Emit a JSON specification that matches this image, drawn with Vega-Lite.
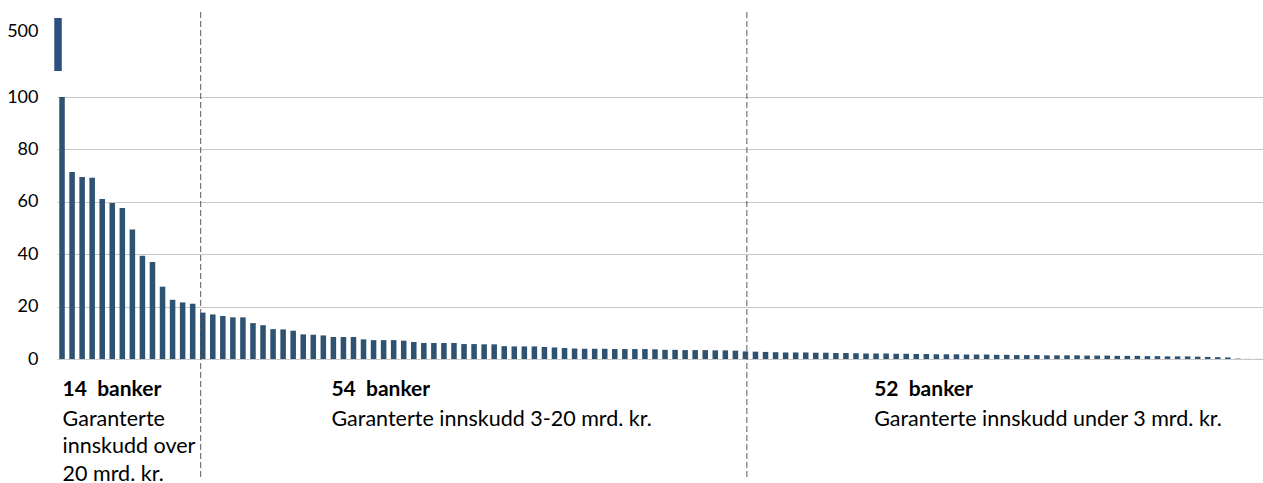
{
  "$schema": "https://vega.github.io/schema/vega-lite/v6.json",
  "width": 1206,
  "height": 465,
  "autosize": {"type": "none"},
  "padding": {"left": 57, "top": 12, "right": 0, "bottom": 6},
  "background": "white",
  "config": {
    "view": {"stroke": null},
    "font": "Lato",
    "text": {"font": "Lato", "color": "#000000"}
  },
  "datasets": {
    "banks": [
      {"rank": 1, "value": 520}, {"rank": 2, "value": 71.4}, {"rank": 3, "value": 69.5}, {"rank": 4, "value": 69.2},
      {"rank": 5, "value": 61.1}, {"rank": 6, "value": 59.5}, {"rank": 7, "value": 57.6}, {"rank": 8, "value": 49.4},
      {"rank": 9, "value": 39.4}, {"rank": 10, "value": 37.0}, {"rank": 11, "value": 27.6}, {"rank": 12, "value": 22.6},
      {"rank": 13, "value": 21.6}, {"rank": 14, "value": 21.1}, {"rank": 15, "value": 17.7}, {"rank": 16, "value": 17.0},
      {"rank": 17, "value": 16.4}, {"rank": 18, "value": 15.9}, {"rank": 19, "value": 15.9}, {"rank": 20, "value": 13.7},
      {"rank": 21, "value": 12.9}, {"rank": 22, "value": 11.4}, {"rank": 23, "value": 11.3}, {"rank": 24, "value": 10.8},
      {"rank": 25, "value": 9.4}, {"rank": 26, "value": 9.3}, {"rank": 27, "value": 9.0}, {"rank": 28, "value": 8.4},
      {"rank": 29, "value": 8.4}, {"rank": 30, "value": 8.4}, {"rank": 31, "value": 7.5}, {"rank": 32, "value": 7.2},
      {"rank": 33, "value": 7.2}, {"rank": 34, "value": 7.2}, {"rank": 35, "value": 7.0}, {"rank": 36, "value": 6.5},
      {"rank": 37, "value": 6.1}, {"rank": 38, "value": 6.1}, {"rank": 39, "value": 6.1}, {"rank": 40, "value": 6.1},
      {"rank": 41, "value": 5.7}, {"rank": 42, "value": 5.7}, {"rank": 43, "value": 5.6}, {"rank": 44, "value": 5.6},
      {"rank": 45, "value": 4.9}, {"rank": 46, "value": 4.8}, {"rank": 47, "value": 4.8}, {"rank": 48, "value": 4.8},
      {"rank": 49, "value": 4.6}, {"rank": 50, "value": 4.4}, {"rank": 51, "value": 4.2}, {"rank": 52, "value": 4.0},
      {"rank": 53, "value": 3.9}, {"rank": 54, "value": 3.9}, {"rank": 55, "value": 3.9}, {"rank": 56, "value": 3.8},
      {"rank": 57, "value": 3.8}, {"rank": 58, "value": 3.8}, {"rank": 59, "value": 3.8}, {"rank": 60, "value": 3.7},
      {"rank": 61, "value": 3.5}, {"rank": 62, "value": 3.5}, {"rank": 63, "value": 3.4}, {"rank": 64, "value": 3.4},
      {"rank": 65, "value": 3.4}, {"rank": 66, "value": 3.3}, {"rank": 67, "value": 3.3}, {"rank": 68, "value": 3.2},
      {"rank": 69, "value": 2.9}, {"rank": 70, "value": 2.8}, {"rank": 71, "value": 2.7}, {"rank": 72, "value": 2.6},
      {"rank": 73, "value": 2.5}, {"rank": 74, "value": 2.5}, {"rank": 75, "value": 2.5}, {"rank": 76, "value": 2.4},
      {"rank": 77, "value": 2.4}, {"rank": 78, "value": 2.3}, {"rank": 79, "value": 2.3}, {"rank": 80, "value": 2.2},
      {"rank": 81, "value": 2.1}, {"rank": 82, "value": 2.1}, {"rank": 83, "value": 2.1}, {"rank": 84, "value": 2.0},
      {"rank": 85, "value": 2.0}, {"rank": 86, "value": 1.9}, {"rank": 87, "value": 1.9}, {"rank": 88, "value": 1.8},
      {"rank": 89, "value": 1.8}, {"rank": 90, "value": 1.8}, {"rank": 91, "value": 1.7}, {"rank": 92, "value": 1.7},
      {"rank": 93, "value": 1.7}, {"rank": 94, "value": 1.6}, {"rank": 95, "value": 1.6}, {"rank": 96, "value": 1.5},
      {"rank": 97, "value": 1.5}, {"rank": 98, "value": 1.5}, {"rank": 99, "value": 1.4}, {"rank": 100, "value": 1.4},
      {"rank": 101, "value": 1.4}, {"rank": 102, "value": 1.4}, {"rank": 103, "value": 1.3}, {"rank": 104, "value": 1.3},
      {"rank": 105, "value": 1.3}, {"rank": 106, "value": 1.2}, {"rank": 107, "value": 1.2}, {"rank": 108, "value": 1.2},
      {"rank": 109, "value": 1.1}, {"rank": 110, "value": 1.1}, {"rank": 111, "value": 1.0}, {"rank": 112, "value": 1.0},
      {"rank": 113, "value": 1.0}, {"rank": 114, "value": 0.9}, {"rank": 115, "value": 0.8}, {"rank": 116, "value": 0.7},
      {"rank": 117, "value": 0.6}, {"rank": 118, "value": 0.15}, {"rank": 119, "value": 0.05}, {"rank": 120, "value": 0.03}
    ],
    "groups": [
      {"group": 1, "rank": 1, "title": "14  banker", "desc": ["Garanterte", "innskudd over", "20 mrd. kr."]},
      {"group": 2, "rank": 28, "title": "54  banker", "desc": ["Garanterte innskudd 3-20 mrd. kr."]},
      {"group": 3, "rank": 82, "title": "52  banker", "desc": ["Garanterte innskudd under 3 mrd. kr."]}
    ],
    "dividers": [
      {"rank": 15, "label": "over 20 / 3-20"},
      {"rank": 69, "label": "3-20 / under 3"}
    ]
  },
  "data": {"name": "banks"},
  "encoding": {
    "x": {
      "field": "rank",
      "type": "ordinal",
      "scale": {"paddingInner": 0.45, "paddingOuter": 0.225},
      "axis": null
    }
  },
  "layer": [
    {
      "layer": [
        {
          "mark": {"type": "bar", "color": "#2E5272"},
          "encoding": {
            "y": {
              "field": "value",
              "type": "quantitative",
              "scale": {"domain": [0, 100], "range": [347, 85], "clamp": true, "nice": false},
              "axis": {
                "values": [0, 20, 40, 60, 80, 100],
                "orient": "left",
                "domain": false,
                "ticks": false,
                "grid": true,
                "gridColor": "#C8C8C8",
                "gridWidth": 1,
                "labelPadding": 19,
                "labelFontSize": 18,
                "labelFont": "Lato",
                "labelColor": "#000000",
                "title": null
              }
            }
          }
        },
        {
          "data": {"name": "dividers"},
          "transform": [{"filter": "datum.rank == 15"}],
          "mark": {"type": "rule", "color": "#5A5A5A", "strokeWidth": 1, "strokeDash": [6, 3]},
          "encoding": {
            "x": {"field": "rank", "type": "ordinal", "bandPosition": 0.13}
          }
        },
        {
          "data": {"name": "dividers"},
          "transform": [{"filter": "datum.rank == 69"}],
          "mark": {"type": "rule", "color": "#5A5A5A", "strokeWidth": 1, "strokeDash": [6, 3]},
          "encoding": {
            "x": {"field": "rank", "type": "ordinal", "bandPosition": 0.76}
          }
        },
        {
          "data": {"name": "groups"},
          "transform": [{"filter": "datum.group == 1"}, {"calculate": "replace(datum.title, '  ', '\u00a0 ')", "as": "titleText"}],
          "mark": {"type": "text", "align": "left", "baseline": "alphabetic", "fontWeight": "bold", "fontSize": 21, "dy": 37, "font": "Lato"},
          "encoding": {
            "x": {"field": "rank", "type": "ordinal", "bandPosition": 0.6},
            "y": {"datum": 0},
            "text": {"field": "titleText"}
          }
        },
        {
          "data": {"name": "groups"},
          "transform": [{"filter": "datum.group != 1"}, {"calculate": "replace(datum.title, '  ', '\u00a0 ')", "as": "titleText"}],
          "mark": {"type": "text", "align": "left", "baseline": "alphabetic", "fontWeight": "bold", "fontSize": 21, "dy": 37, "font": "Lato"},
          "encoding": {
            "x": {"field": "rank", "type": "ordinal", "bandPosition": 0.15},
            "y": {"datum": 0},
            "text": {"field": "titleText"}
          }
        },
        {
          "data": {"name": "groups"},
          "transform": [{"filter": "datum.group == 1"}],
          "mark": {"type": "text", "align": "left", "baseline": "alphabetic", "fontSize": 21.5, "dy": 67, "lineHeight": 27.3, "font": "Lato"},
          "encoding": {
            "x": {"field": "rank", "type": "ordinal", "bandPosition": 0.6},
            "y": {"datum": 0},
            "text": {"field": "desc"}
          }
        },
        {
          "data": {"name": "groups"},
          "transform": [{"filter": "datum.group != 1"}],
          "mark": {"type": "text", "align": "left", "baseline": "alphabetic", "fontSize": 21.5, "dy": 67, "lineHeight": 27.3, "font": "Lato"},
          "encoding": {
            "x": {"field": "rank", "type": "ordinal", "bandPosition": 0.15},
            "y": {"datum": 0},
            "text": {"field": "desc"}
          }
        }
      ]
    },
    {
      "transform": [{"filter": "datum.value > 100"}],
      "mark": {"type": "bar", "color": "#2B4F80", "width": 7.5, "xOffset": -4},
      "encoding": {
        "y": {
          "field": "value",
          "type": "quantitative",
          "scale": {"domain": [440, 520], "range": [59, 6], "clamp": true, "zero": false, "nice": false},
          "axis": {
            "values": [500],
            "orient": "left",
            "domain": false,
            "ticks": false,
            "grid": false,
            "labelPadding": 19,
            "labelFontSize": 18,
            "labelFont": "Lato",
            "labelColor": "#000000",
            "title": null
          }
        },
        "y2": {"datum": 0}
      }
    }
  ],
  "resolve": {"scale": {"y": "independent"}, "axis": {"y": "independent"}}
}
